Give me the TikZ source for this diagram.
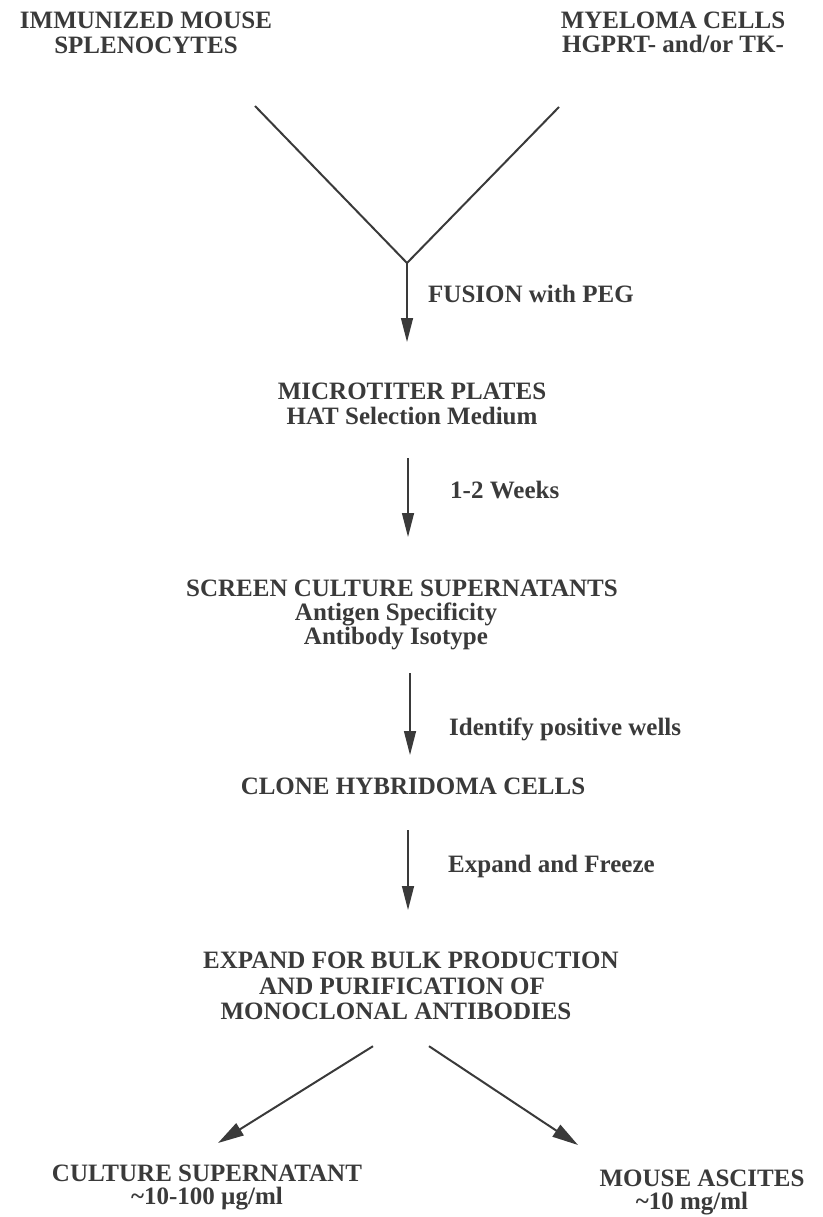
\documentclass[tikz,border=0pt]{standalone}
\usepackage{fontspec}
\setmainfont{Liberation Serif}
\usetikzlibrary{arrows.meta}
\definecolor{ink}{RGB}{58,58,58}

\begin{document}
\begin{tikzpicture}[x=1pt,y=-1pt,
    stage/.style={inner sep=0pt,anchor=north,align=center,text=ink,
        font=\bfseries\fontsize{25}{25}\selectfont},
    note/.style={inner sep=0pt,anchor=base west,text=ink,
        font=\bfseries\fontsize{25}{25}\selectfont},
    flow/.style={draw=ink,line width=1.4pt,-{Triangle[length=24pt,width=12pt]}},
    bigflow/.style={draw=ink,line width=2pt,-{Triangle[length=26pt,width=14pt]}},
    fuseline/.style={draw=ink,line width=2pt}]
    \useasboundingbox (0,0) rectangle (822,1217);

    % cell sources
    \node[stage] (spleen) at (146,12) {IMMUNIZED MOUSE\\SPLENOCYTES};
    \node[stage,font=\bfseries\fontsize{25}{24}\selectfont] (myeloma) at (673,12) {MYELOMA CELLS\\HGPRT- and/or TK-};
    \coordinate (vleft) at (255,106);
    \coordinate (vright) at (559,107);
    \coordinate (fuse) at (407,263);
    \draw[fuseline] (vleft) -- (fuse) -- (vright);

    % steps
    \node[stage] (plates) at (412,383) {MICROTITER PLATES\\HAT Selection Medium};
    \node[stage,font=\bfseries\fontsize{25}{24}\selectfont] (screen) at (402,580)
        {SCREEN CULTURE SUPERNATANTS\\Antigen Specificity\rule{12pt}{0pt}\\Antibody Isotype\rule{12pt}{0pt}};
    \node[stage] (clone) at (413,778) {CLONE HYBRIDOMA CELLS};
    \node[stage,font=\bfseries\fontsize{25}{25.5}\selectfont] (expand) at (411,952)
        {EXPAND FOR BULK PRODUCTION\\AND PURIFICATION OF\rule{18pt}{0pt}\\MONOCLONAL ANTIBODIES\rule{30pt}{0pt}};
    \node[stage,font=\bfseries\fontsize{25}{23}\selectfont] (culture) at (207,1165) {CULTURE SUPERNATANT\\\textasciitilde 10-100 µg/ml};
    \node[stage,font=\bfseries\fontsize{25}{23}\selectfont] (ascites) at (702,1170) {MOUSE ASCITES\\\textasciitilde 10 mg/ml\rule{20pt}{0pt}};

    % arrow labels
    \node[note] (fusion) at (428,302) {FUSION with PEG};
    \node[note] (weeks) at (450,498) {1-2 Weeks};
    \node[note] (identify) at (449,735) {Identify positive wells};
    \node[note] (freeze) at (448,872) {Expand and Freeze};

    \draw[flow,shorten >=41pt] (fuse) -- (fuse |- plates.north);
    \draw[flow,shorten <=33pt,shorten >=43pt] ([xshift=-4pt]plates.south) -- ([xshift=-4pt]plates.south |- screen.north);
    \draw[flow,shorten <=23pt,shorten >=23pt] ([xshift=8pt]screen.south) -- ([xshift=8pt]screen.south |- clone.north);
    \draw[flow,shorten <=35pt,shorten >=42pt] ([xshift=-5pt]clone.south) -- ([xshift=-5pt]clone.south |- expand.north);
    \draw[bigflow] ([xshift=-38pt,yshift=-26pt]expand.south) -- ([xshift=11pt,yshift=22pt]culture.north);
    \draw[bigflow] ([xshift=18pt,yshift=-26pt]expand.south) -- ([xshift=-124pt,yshift=25pt]ascites.north);
\end{tikzpicture}
\end{document}
